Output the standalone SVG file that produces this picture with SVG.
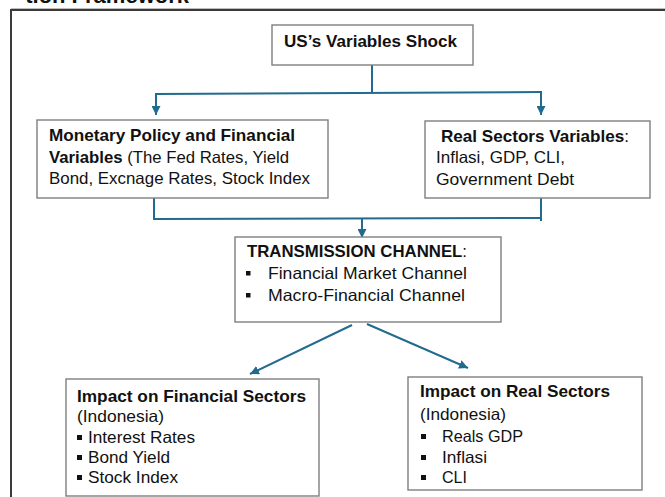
<svg xmlns="http://www.w3.org/2000/svg" width="665" height="497" viewBox="0 0 665 497">
<style>
  .box { fill: #ffffff; stroke: #7f7f7f; stroke-width: 1.4; }
  .t { font-family: "Liberation Sans", Arial, sans-serif; font-size: 16.5px; fill: #111111; }
  .b { font-weight: bold; }
  .conn { fill: none; stroke: #236b8e; stroke-width: 2; }
  .bul { fill: #111111; }
</style>
<defs>
  <marker id="arr" viewBox="0 0 10 10" refX="10" refY="5" markerWidth="9" markerHeight="9" markerUnits="userSpaceOnUse" orient="auto">
    <path d="M0,0 L10,5 L0,10 z" fill="#236b8e"/>
  </marker>
</defs>
<rect width="665" height="497" fill="#ffffff"/>
<text class="t b" x="189" y="3" text-anchor="end" style="font-size:22px">tion Framework</text>
<g id="frame">
  <line x1="11" y1="8.5" x2="665" y2="8.5" stroke="#bdbdbd" stroke-width="1"/>
  <path d="M11,497 V10 H665" fill="none" stroke="#3a3a3a" stroke-width="2"/>
</g>
<g id="connectors">
  <path class="conn" d="M372,65 V93"/>
  <path class="conn" d="M155,94 L542,92"/>
  <path class="conn" d="M156,94 V115" marker-end="url(#arr)"/>
  <path class="conn" d="M541,92 V115" marker-end="url(#arr)"/>
  <path class="conn" d="M154,198 V219 L541,218"/>
  <path class="conn" d="M541,198 V221"/>
  <path class="conn" d="M362,218 V238" marker-end="url(#arr)"/>
  <path class="conn" d="M352,325 L250,374" marker-end="url(#arr)"/>
  <path class="conn" d="M367,324 L468,368" marker-end="url(#arr)"/>
</g>
<g id="us-shock">
  <rect class="box" x="272" y="25" width="201" height="40"/>
  <text class="t b" x="284" y="47" textLength="173" lengthAdjust="spacingAndGlyphs">US’s Variables Shock</text>
</g>
<g id="monetary">
  <rect class="box" x="37" y="120" width="291" height="78"/>
  <text class="t b" x="49" y="141" textLength="246" lengthAdjust="spacingAndGlyphs">Monetary Policy and Financial</text>
  <text class="t" x="49" y="163" textLength="240" lengthAdjust="spacingAndGlyphs"><tspan class="b">Variables</tspan> (The Fed Rates, Yield</text>
  <text class="t" x="49" y="184" textLength="261" lengthAdjust="spacingAndGlyphs">Bond, Excnage Rates, Stock Index</text>
</g>
<g id="real-vars">
  <rect class="box" x="425" y="121" width="225" height="77"/>
  <text class="t" x="441" y="142" textLength="188" lengthAdjust="spacingAndGlyphs"><tspan class="b">Real Sectors Variables</tspan>:</text>
  <text class="t" x="436" y="163" textLength="129" lengthAdjust="spacingAndGlyphs">Inflasi, GDP, CLI,</text>
  <text class="t" x="436" y="185" textLength="138" lengthAdjust="spacingAndGlyphs">Government Debt</text>
</g>
<g id="transmission">
  <rect class="box" x="235" y="237" width="266" height="85"/>
  <text class="t" x="247" y="257" textLength="220" lengthAdjust="spacingAndGlyphs"><tspan class="b">TRANSMISSION CHANNEL</tspan>:</text>
  <rect class="bul" x="246" y="271" width="4.5" height="4.5"/>
  <text class="t" x="268" y="279" textLength="199" lengthAdjust="spacingAndGlyphs">Financial Market Channel</text>
  <rect class="bul" x="246" y="293" width="4.5" height="4.5"/>
  <text class="t" x="268" y="301" textLength="197" lengthAdjust="spacingAndGlyphs">Macro-Financial Channel</text>
</g>
<g id="impact-financial">
  <rect class="box" x="66" y="379" width="253" height="117"/>
  <text class="t b" x="77" y="402" textLength="229" lengthAdjust="spacingAndGlyphs">Impact on Financial Sectors</text>
  <text class="t" x="77" y="422" textLength="87" lengthAdjust="spacingAndGlyphs">(Indonesia)</text>
  <rect class="bul" x="77" y="435" width="5" height="5"/>
  <text class="t" x="88" y="443" textLength="107" lengthAdjust="spacingAndGlyphs">Interest Rates</text>
  <rect class="bul" x="77" y="455" width="5" height="5"/>
  <text class="t" x="88" y="463" textLength="82" lengthAdjust="spacingAndGlyphs">Bond Yield</text>
  <rect class="bul" x="77" y="475" width="5" height="5"/>
  <text class="t" x="88" y="483" textLength="90" lengthAdjust="spacingAndGlyphs">Stock Index</text>
</g>
<g id="impact-real">
  <rect class="box" x="408" y="377" width="234" height="113"/>
  <text class="t b" x="420" y="397" textLength="190" lengthAdjust="spacingAndGlyphs">Impact on Real Sectors</text>
  <text class="t" x="420" y="420" textLength="86" lengthAdjust="spacingAndGlyphs">(Indonesia)</text>
  <rect class="bul" x="421" y="434" width="5" height="5"/>
  <text class="t" x="442" y="442" textLength="81" lengthAdjust="spacingAndGlyphs">Reals GDP</text>
  <rect class="bul" x="421" y="455" width="5" height="5"/>
  <text class="t" x="442" y="463" textLength="45" lengthAdjust="spacingAndGlyphs">Inflasi</text>
  <rect class="bul" x="421" y="475" width="5" height="5"/>
  <text class="t" x="442" y="483" textLength="25" lengthAdjust="spacingAndGlyphs">CLI</text>
</g>
</svg>
